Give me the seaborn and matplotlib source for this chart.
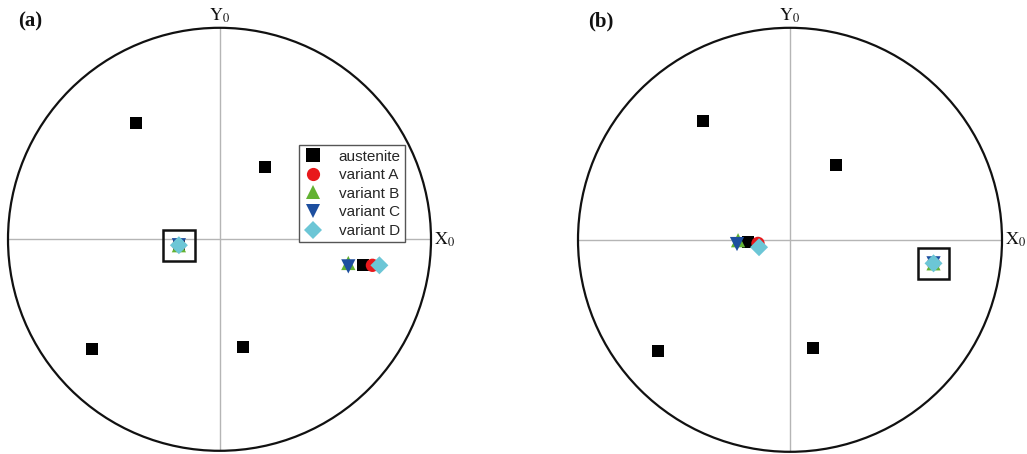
import numpy as np
import pandas as pd
import matplotlib
matplotlib.use("Agg")
import matplotlib.pyplot as plt
import seaborn as sns
from matplotlib.patches import Circle, Rectangle

sns.set_theme(style="white")
plt.rcParams['font.family'] = ['Liberation Sans', 'DejaVu Sans']
plt.rcParams['mathtext.fontset'] = 'stix'

phases = ["austenite", "variant A", "variant B", "variant C", "variant D"]
colors = ["#000000", "#e8191c", "#63b233", "#1d4f9f", "#6cc6d6"]
markers = ["s", "o", "^", "v", "D"]
sizes = [74, 92, 105, 105, 84]

# panel (a)
a_phase = ["austenite"] * 6 + ["variant A", "variant B", "variant C", "variant D"] * 2
a_x = [-0.396, 0.217, -0.604, 0.113, 0.680, -0.192,
       -0.192, -0.192, -0.192, -0.192,
       0.723, 0.609, 0.609, 0.756]
a_y = [0.552, 0.344, -0.519, -0.509, -0.123, -0.028,
       -0.028, -0.028, -0.028, -0.028,
       -0.123, -0.112, -0.128, -0.123]

# panel (b)
b_phase = ["austenite"] * 6 + ["variant A", "variant B", "variant C", "variant D"] * 2
b_x = [-0.410, 0.217, -0.623, 0.108, -0.200, 0.677,
       -0.151, -0.245, -0.250, -0.146,
       0.677, 0.677, 0.677, 0.677]
b_y = [0.561, 0.354, -0.524, -0.509, -0.012, -0.111,
       -0.017, -0.002, -0.020, -0.035,
       -0.111, -0.111, -0.111, -0.111]

# highlighted boxes (center x, center y)
a_box = (-0.192, -0.030)
b_box = (0.677, -0.111)
box_size = 0.148

W, H = 1027, 454
fig = plt.figure(figsize=(W / 100, H / 100), dpi=100)

def make_ax(cx_px, cy_px, r_px):
    return fig.add_axes([(cx_px - r_px) / W, (H - cy_px - r_px) / H,
                         2 * r_px / W, 2 * r_px / H])

pal = dict(zip(phases, colors))
mk = dict(zip(phases, markers))
sz = dict(zip(phases, sizes))

panels = [
    (make_ax(219.5, 239.3, 211.5), a_phase, a_x, a_y, a_box, "(a)", True),
    (make_ax(790.0, 239.8, 212.0), b_phase, b_x, b_y, b_box, "(b)", False),
]

for ax, ph, xs, ys, box, tag, show_leg in panels:
    ax.set_xlim(-1, 1)
    ax.set_ylim(-1, 1)
    ax.set_aspect("equal")
    ax.axis("off")
    ax.plot([-1, 1], [0, 0], color="#b5b5b5", lw=1.0, zorder=1)
    ax.plot([0, 0], [-1, 1], color="#b5b5b5", lw=1.0, zorder=1)
    ax.add_patch(Circle((0, 0), 1.0, fill=False, ec="#111111", lw=1.6,
                        clip_on=False, zorder=2))
    df = pd.DataFrame({"x": xs, "y": ys, "phase": ph})
    df["phase"] = pd.Categorical(df["phase"], categories=phases, ordered=True)
    df = df.sort_values("phase", kind="stable").reset_index(drop=True)
    sns.scatterplot(data=df, x="x", y="y", hue="phase", style="phase",
                    size="phase", hue_order=phases, style_order=phases,
                    size_order=phases, palette=pal, markers=mk, sizes=sz,
                    linewidth=0, edgecolor="none", ax=ax, zorder=3,
                    legend="full" if show_leg else False, clip_on=False)
    ax.add_patch(Rectangle((box[0] - box_size / 2, box[1] - box_size / 2),
                           box_size, box_size, fill=False, ec="#111111",
                           lw=1.8, zorder=4, clip_on=False))
    ax.text(1.015, 0.0, r"$\mathrm{X}_{0}$", fontsize=13, ha="left",
            va="center", color="#111111", clip_on=False)
    ax.text(0.0, 1.055, r"$\mathrm{Y}_{0}$", fontsize=13, ha="center",
            va="center", color="#111111", clip_on=False)
    ax.text(-0.95, 1.03, tag, fontsize=15, fontweight="bold",
            family="Liberation Serif", ha="left", va="center",
            color="#111111", clip_on=False)
    ax.set_xlabel("")
    ax.set_ylabel("")
    if show_leg:
        leg = ax.get_legend()
        handles = leg.legend_handles
        labels = [t.get_text() for t in leg.get_texts()]
        leg.remove()
        for h in handles:
            try:
                h.set_markersize(9.5)
            except Exception:
                pass
        leg = ax.legend(handles, labels, loc="upper left",
                        bbox_to_anchor=(0.688, 0.723), borderaxespad=0,
                        frameon=True, fancybox=False, fontsize=11,
                        handlelength=1.2, handletextpad=1.1,
                        labelspacing=0.3, borderpad=0.3,
                        edgecolor="#555555", framealpha=1)
        leg.get_frame().set_linewidth(1.0)
        leg.set_zorder(5)

fig.savefig("out.png", dpi=100)
